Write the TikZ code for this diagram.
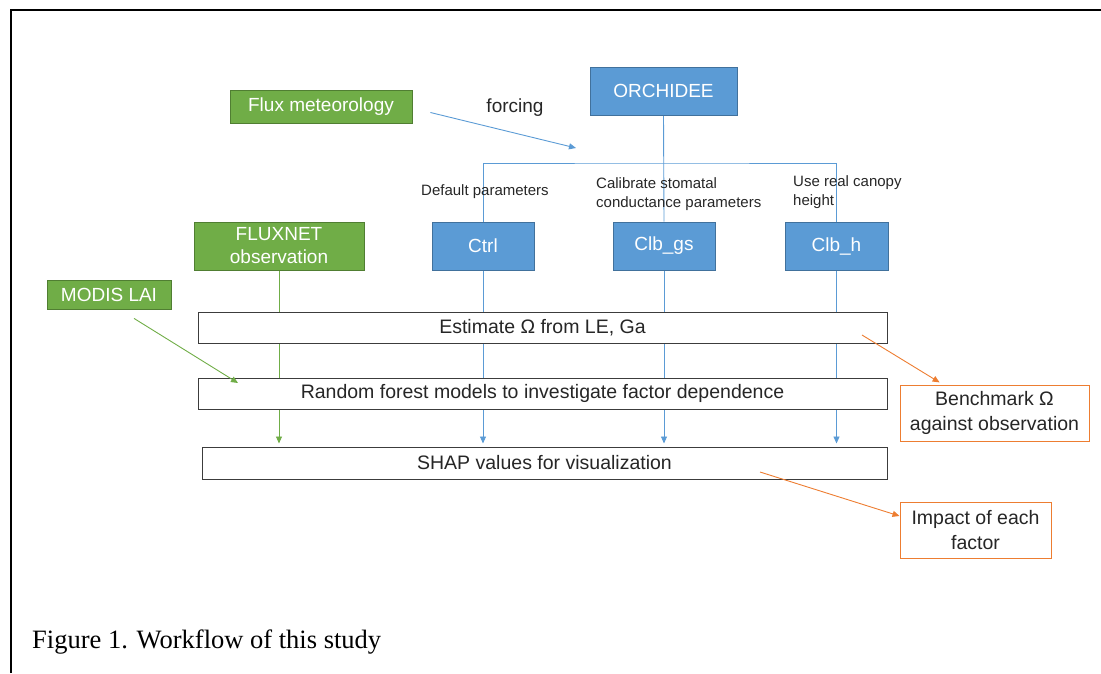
\documentclass[tikz,border=0pt]{standalone}
\usepackage{fontspec}
\setmainfont{Liberation Sans}
\newfontfamily\capfont{Liberation Serif}
\usetikzlibrary{arrows.meta,calc}
\definecolor{cblue}{HTML}{5B9BD5}
\definecolor{cblueb}{HTML}{41719C}
\definecolor{cgreen}{HTML}{70AD47}
\definecolor{cgreenb}{HTML}{507E32}
\definecolor{corange}{HTML}{ED7D31}
\definecolor{ctext}{HTML}{262626}
\pgfdeclarelayer{bg}
\pgfsetlayers{bg,main}
\tikzset{
  bluebox/.style={draw=cblueb,fill=cblue,text=white,line width=0.8pt,inner sep=0pt,font=\fontsize{19}{21}\selectfont,align=center},
  greenbox/.style={draw=cgreenb,fill=cgreen,text=white,line width=0.8pt,inner sep=0pt,font=\fontsize{19}{23}\selectfont,align=center},
  whitebox/.style={draw=ctext!90,fill=white,text=ctext,line width=1pt,inner sep=0pt,font=\fontsize{19.5}{21}\selectfont},
  orangebox/.style={draw=corange,fill=white,text=ctext,line width=1pt,inner sep=0pt,font=\fontsize{19.5}{25}\selectfont,align=center},
  smalllabel/.style={inner sep=0pt,text=ctext,font=\fontsize{15}{19}\selectfont,align=left},
  blueline/.style={draw=cblue,line width=0.9pt},
  greenline/.style={draw=cgreen,line width=0.9pt},
  orangeline/.style={draw=corange,line width=0.9pt},
  tip/.style={-{Triangle[length=7pt,width=6pt]}},
}
\begin{document}
\begin{tikzpicture}[x=1pt,y=-1pt]
\useasboundingbox (0,0) rectangle (1101,673);
% frame
\draw[line width=2pt] (11,673) -- (11,10) -- (1101,10);

% coloured nodes
\node[greenbox,minimum width=182,minimum height=33] (flux) at (321,106.5) {Flux meteorology};
\node[bluebox,minimum width=147,minimum height=48] (orch) at (663.5,91) {ORCHIDEE};
\node[bluebox,minimum width=102,minimum height=48] (ctrl) at (483,246) {Ctrl};
\node[bluebox,minimum width=102,minimum height=48] (clbgs) at (664,246) {Clb\_gs};
\node[bluebox,minimum width=103,minimum height=48] (clbh) at (836.5,246) {Clb\_h};
\node[greenbox,minimum width=170,minimum height=48] (fluxnet) at (279,246) {FLUXNET\\observation};
\node[greenbox,minimum width=124,minimum height=29] (modis) at (109,294.5) {MODIS LAI};

% white boxes
\node[whitebox,minimum width=689,minimum height=31] (est) at (542.5,327.5) {Estimate Ω from LE, Ga};
\node[whitebox,minimum width=689,minimum height=31] (rf) at (542.5,393.5) {Random forest models to investigate factor dependence};
\node[whitebox,minimum width=685,minimum height=32] (shap) at (544.5,463) {SHAP values for visualization};

% orange boxes
\node[orangebox,minimum width=189,minimum height=56] (bench) at (994.5,413) {Benchmark Ω\\against observation};
\node[orangebox,minimum width=151,minimum height=56] (impact) at (975.5,530) {Impact of each\\factor};

% labels
\node[inner sep=0pt,text=ctext,font=\fontsize{19}{21}\selectfont] (forcing) at (515,108) {forcing};
\node[smalllabel,anchor=base west] (ldef) at (421,195) {Default parameters};
\node[smalllabel,anchor=base west] (lcal1) at (596,188) {Calibrate stomatal};
\node[smalllabel,anchor=base west] (lcal2) at (596,207) {conductance parameters};
\node[smalllabel,anchor=base west] (luse1) at (793,186) {Use real canopy};
\node[smalllabel,anchor=base west] (luse2) at (793,205) {height};

% caption
\node[inner sep=0pt,anchor=base west,font=\capfont\fontsize{26.5}{30}\selectfont] (cap) at (32,648) {Figure 1. Workflow of this study};

% coordinates
\coordinate (branch) at (664,163);
\coordinate (fs) at ($(flux.east)+(18,6)$);
\coordinate (fe) at (576,148);
\coordinate (ms) at ($(modis.south)+(25,9)$);
\coordinate (me) at (238,383);
\coordinate (bs) at (862,335);
\coordinate (ss) at (760,472);

\begin{pgfonlayer}{bg}
\draw[blueline] (orch.south) -- (clbgs.north);
\draw[blueline] (ctrl.north) |- (branch) -| (clbh.north);
\draw[greenline,tip,shorten >=3pt] (fluxnet.south) -- (fluxnet.south |- shap.north);
\draw[blueline,tip,shorten >=3pt] (ctrl.south) -- (ctrl.south |- shap.north);
\draw[blueline,tip,shorten >=3pt] (clbgs.south) -- (clbgs.south |- shap.north);
\draw[blueline,tip,shorten >=3pt] (clbh.south) -- (clbh.south |- shap.north);
\end{pgfonlayer}

\draw[blueline,tip] (fs) -- (fe);
\draw[greenline,tip] (ms) -- (me);
\draw[orangeline,tip,shorten >=4pt] (bs) -- (bench.north -| 943,0);
\draw[orangeline,tip] (ss) -- (impact.west |- 0,516);
\end{tikzpicture}
\end{document}
